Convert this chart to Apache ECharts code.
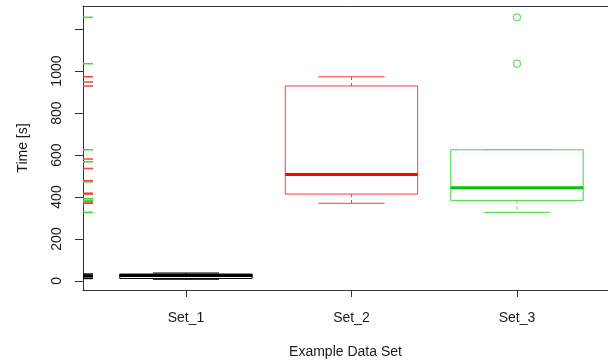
<!DOCTYPE html>
<html>
<head>
<meta charset="utf-8">
<script src="https://cdn.jsdelivr.net/npm/echarts@6/dist/echarts.min.js"></script>
<style>html,body{margin:0;padding:0;background:#fff}#c{width:608px;height:364px}</style>
</head>
<body>
<div id="c"></div>
<script>
// ---- data ----
const categories = ['Set_1', 'Set_2', 'Set_3'];
const lowerWhisker = [8, 370, 327];
const lowerHinge = [12, 414, 384];
const medians = [26, 507, 444];
const upperHinge = [33, 929, 625];
const upperWhisker = [38, 973, 625];
const outlierSet3 = [1035, 1256];
const rugSet1 = [12, 20, 26, 33];
const rugSet2 = [370, 372, 414, 418, 478, 536, 581, 929, 948, 973];
const rugSet3 = [327, 378, 384, 392, 416, 472, 568, 625, 1035, 1256];
const yTickValues = [0, 200, 400, 600, 800, 1000, 1200];
const yLabelValues = [0, 200, 400, 600, 800, 1000];
const xTickValues = [1, 2, 3];
const thinColors = ['#000000', '#ff3b3b', '#3fd63f'];
const medianColors = ['#000000', '#ff0000', '#00c800'];

const X_MIN = 0.378, X_MAX = 3.55;
const FONT = 'Liberation Sans, Arial, sans-serif';
const AXIS_COLOR = '#333';
const TEXT_COLOR = '#1a1a1a';

const boxData = categories.map((c, i) => [i + 1, lowerWhisker[i], lowerHinge[i], medians[i], upperHinge[i], upperWhisker[i], i]);

function renderBox(params, api) {
  const x = api.value(0);
  const idx = api.value(6);
  const half = 0.4, staple = 0.2;
  const lw = api.value(1), q1 = api.value(2), md = api.value(3), q3 = api.value(4), uw = api.value(5);
  const c = thinColors[idx], mc = medianColors[idx];
  const tl = api.coord([x - half, q3]);
  const br = api.coord([x + half, q1]);
  const mL = api.coord([x - half, md]);
  const mR = api.coord([x + half, md]);
  const pLow = api.coord([x, lw]);
  const pHigh = api.coord([x, uw]);
  const pQ1 = api.coord([x, q1]);
  const pQ3 = api.coord([x, q3]);
  const sL = api.coord([x - staple, 0])[0];
  const sR = api.coord([x + staple, 0])[0];
  const children = [];
  children.push({type: 'line', shape: {x1: pQ1[0], y1: pQ1[1], x2: pLow[0], y2: pLow[1]}, style: {stroke: c, lineWidth: 1, lineDash: [3, 3]}});
  children.push({type: 'line', shape: {x1: pQ3[0], y1: pQ3[1], x2: pHigh[0], y2: pHigh[1]}, style: {stroke: c, lineWidth: 1, lineDash: [3, 3]}});
  children.push({type: 'line', shape: {x1: sL, y1: pLow[1], x2: sR, y2: pLow[1]}, style: {stroke: c, lineWidth: 1}});
  children.push({type: 'line', shape: {x1: sL, y1: pHigh[1], x2: sR, y2: pHigh[1]}, style: {stroke: c, lineWidth: 1}});
  children.push({type: 'rect', shape: {x: tl[0], y: tl[1], width: br[0] - tl[0], height: br[1] - tl[1]}, style: {fill: '#fff', stroke: c, lineWidth: 1}});
  children.push({type: 'line', shape: {x1: mL[0], y1: mL[1], x2: mR[0], y2: mR[1]}, style: {stroke: mc, lineWidth: 3}});
  return {type: 'group', children: children};
}

function rugRenderer(color) {
  return function (params, api) {
    const p = api.coord([X_MIN, api.value(0)]);
    return {type: 'line', shape: {x1: p[0], y1: p[1], x2: p[0] + 10, y2: p[1]}, style: {stroke: color, lineWidth: 1.5}};
  };
}

const chart = echarts.init(document.getElementById('c'), null, {renderer: 'canvas'});
chart.setOption({
  animation: false,
  backgroundColor: '#fff',
  grid: {left: 83, top: 6, right: 0, height: 284},
  xAxis: [{
    type: 'value', min: X_MIN, max: X_MAX, position: 'bottom',
    name: 'Example Data Set', nameLocation: 'middle', nameGap: 55,
    nameTextStyle: {fontFamily: FONT, fontSize: 14, color: TEXT_COLOR},
    axisLine: {show: true, onZero: false, lineStyle: {color: AXIS_COLOR, width: 1}},
    axisTick: {show: true, length: 7, customValues: xTickValues, lineStyle: {color: AXIS_COLOR}},
    axisLabel: {customValues: xTickValues, margin: 21, fontFamily: FONT, fontSize: 14, color: TEXT_COLOR,
      formatter: v => categories[Math.round(v) - 1]},
    splitLine: {show: false}
  }, {
    type: 'value', min: X_MIN, max: X_MAX, position: 'top',
    axisLine: {show: true, onZero: false, lineStyle: {color: AXIS_COLOR, width: 1}},
    axisTick: {show: false}, axisLabel: {show: false}, splitLine: {show: false}
  }],
  yAxis: {
    type: 'value', min: -43, max: 1310,
    name: 'Time [s]', nameLocation: 'middle', nameGap: 53, nameRotate: 90,
    nameTextStyle: {fontFamily: FONT, fontSize: 14, color: TEXT_COLOR},
    axisLine: {show: true, onZero: false, lineStyle: {color: AXIS_COLOR, width: 1}},
    axisTick: {show: true, length: 8, customValues: yTickValues, lineStyle: {color: AXIS_COLOR}},
    axisLabel: {customValues: yLabelValues, rotate: 90, margin: 19, fontFamily: FONT, fontSize: 14, color: TEXT_COLOR,
      formatter: v => String(v)},
    splitLine: {show: false}
  },
  series: [
    {type: 'custom', renderItem: renderBox, data: boxData, encode: {x: 0, y: [1, 2, 3, 4, 5]}, z: 2},
    {type: 'scatter', data: outlierSet3.map(v => [3, v]), symbol: 'circle', symbolSize: 7,
      itemStyle: {color: 'transparent', borderColor: thinColors[2], borderWidth: 1.2}, z: 3},
    {type: 'custom', renderItem: rugRenderer(thinColors[2]), data: rugSet3.map(v => [v]), encode: {y: 0}, z: 4},
    {type: 'custom', renderItem: rugRenderer(thinColors[1]), data: rugSet2.map(v => [v]), encode: {y: 0}, z: 5},
    {type: 'custom', renderItem: rugRenderer(thinColors[0]), data: rugSet1.map(v => [v]), encode: {y: 0}, z: 6}
  ]
});
</script>
</body>
</html>
